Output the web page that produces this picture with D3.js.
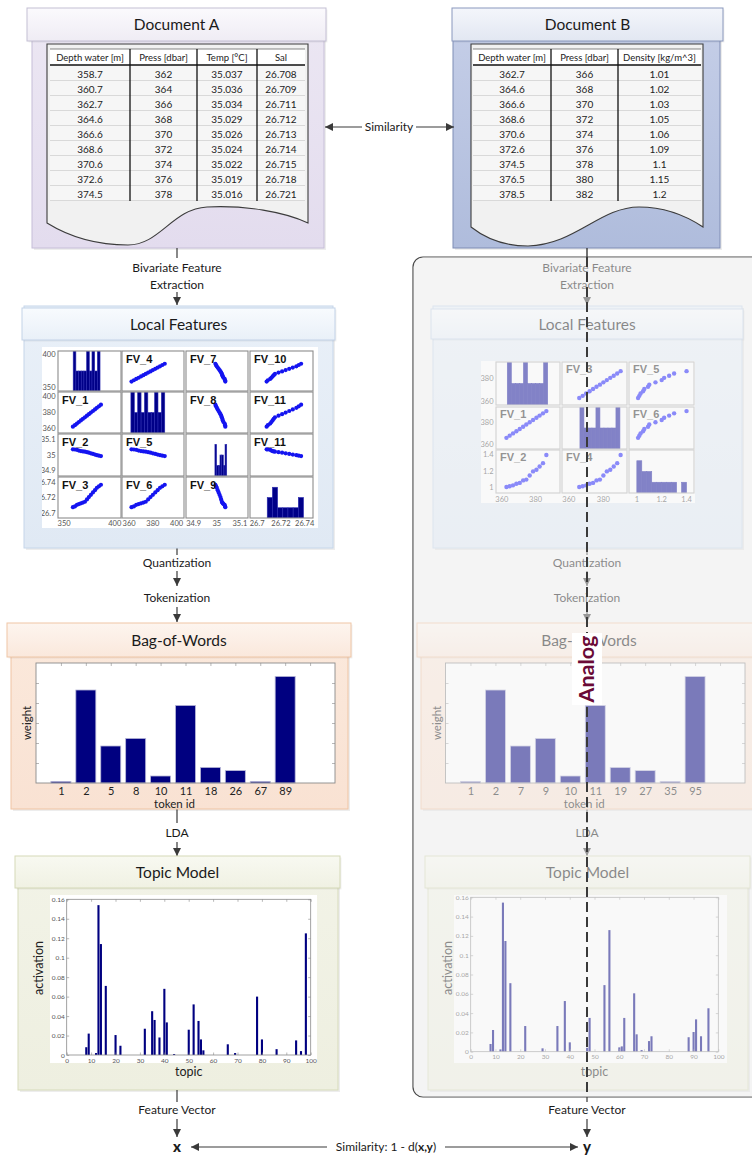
<!DOCTYPE html>
<html><head><meta charset="utf-8">
<script src="https://d3js.org/d3.v7.min.js"></script>
<style>
html,body{margin:0;padding:0;background:#fff;}
svg{display:block;}
</style></head>
<body>
<svg id="chart" width="752" height="1158"></svg>
<script>
// ===================== DATA =====================
const docAHeaders = ["Depth water [m]", "Press [dbar]", "Temp [°C]", "Sal"];
const docBHeaders = ["Depth water [m]", "Press [dbar]", "Density [kg/m^3]"];
const tableRowCount = 9;

// Document A profile (first 9 rows in the table, remaining)
const depthA = [358.7, 360.7, 362.7, 364.6, 366.6, 368.6, 370.6, 372.6, 374.5, 376.5, 378.5, 380.5, 382.4, 384.4, 386.4];
const pressA = [362, 364, 366, 368, 370, 372, 374, 376, 378, 380, 382, 384, 386, 388, 390];
const tempA  = [35.037, 35.036, 35.034, 35.029, 35.026, 35.024, 35.022, 35.019, 35.016, 35.012, 35.008, 35.004, 35.000, 34.997, 34.994];
const salA   = [26.708, 26.709, 26.711, 26.712, 26.713, 26.714, 26.715, 26.718, 26.721, 26.724, 26.727, 26.730, 26.733, 26.735, 26.737];

// Document B profile
const depthB = [362.7, 364.6, 366.6, 368.6, 370.6, 372.6, 374.5, 376.5, 378.5, 380.5, 382.4, 384.4, 386.4];
const pressB = [366, 368, 370, 372, 374, 376, 378, 380, 382, 384, 386, 388, 390];
const densB  = [1.01, 1.02, 1.03, 1.05, 1.06, 1.09, 1.1, 1.15, 1.2, 1.22, 1.26, 1.3, 1.4];

// Scatter-matrix histograms (bin counts)
const histDepthA = [2, 1, 1, 1, 1, 2, 1, 2, 1, 2];
const histPressA = [2, 1, 2, 1, 2, 1, 1, 2, 1, 2];
const histTempA  = [3, 1, 1, 2, 2, 1, 3];
const histSalA   = [2, 3, 1, 1, 1, 1, 2];
const histRangesA = [[359, 385.5], [361.5, 390], [34.992, 35.043], [26.7085, 26.739]];
const histMaxA = [2, 2, 4, 4];
const histDepthB = [2, 1, 1, 1, 2, 1, 1, 1, 1, 2];
const histPressB = [2, 1, 1, 1, 2, 1, 1, 1, 1, 2];
const histDensB  = [3, 2, 2, 1, 1, 1, 1, 1, 0, 1];
const histRangesB = [[363.2, 387.2], [366.4, 389.6], [1, 1.4]];
const histMaxB = [2, 2, 4];

const varDomainsA = [[344, 406.2], [354, 406.2], [34.867, 35.135], [26.694, 26.747]];
const varTicksA = [[350, 400], [360, 380, 400], [34.9, 35, 35.1], [26.7, 26.72, 26.74]];
const varDomainsB = [[356.5, 394.5], [356, 393.7], [0.937, 1.46]];
const varTicksB = [[360, 380], [360, 380], [1, 1.2, 1.4]];
const fvLabelsA = [["", "FV_4", "FV_7", "FV_10"], ["FV_1", "", "FV_8", "FV_11"], ["FV_2", "FV_5", "", "FV_11"], ["FV_3", "FV_6", "FV_9", ""]];
const fvLabelsB = [["", "FV_3", "FV_5"], ["FV_1", "", "FV_6"], ["FV_2", "FV_4", ""]];

// Bag-of-Words
const bowTokensA = ["1", "2", "5", "8", "10", "11", "18", "26", "67", "89"];
const bowWeightsA = [0.08, 4.65, 1.85, 2.23, 0.35, 3.88, 0.78, 0.62, 0.08, 5.33];
const bowTokensB = ["1", "2", "7", "9", "10", "11", "19", "27", "35", "95"];
const bowWeightsB = [0.08, 4.65, 1.85, 2.23, 0.35, 3.88, 0.78, 0.62, 0.08, 5.33];
const bowGridTicks = [1, 2, 3, 4, 5];
const bowTopTicks = [1, 2, 3, 4, 5, 6, 7, 8, 9, 10, 11];

// Topic model activations
const topicIdsA  = [8, 9, 12, 13, 14, 16, 20, 22, 32, 35, 36, 38, 40, 41, 44, 50, 52, 54, 55, 56, 66, 69, 78, 80, 86, 94, 96, 98];
const topicActA  = [0.008, 0.022, 0.002, 0.154, 0.114, 0.071, 0.0205, 0.0095, 0.027, 0.045, 0.036, 0.018, 0.068, 0.0335, 0.001, 0.026, 0.052, 0.035, 0.016, 0.0048, 0.011, 0.002, 0.060, 0.016, 0.006, 0.015, 0.004, 0.125];
const topicIdsB  = [8, 9, 12, 13, 14, 16, 22, 29, 35, 38, 40, 47, 48, 54, 56, 60, 61, 62, 66, 67, 69, 72, 73, 88, 90, 91, 93, 96];
const topicActB  = [0.008, 0.0225, 0.0024, 0.1545, 0.1147, 0.071, 0.0266, 0.0035, 0.0266, 0.0525, 0.0097, 0.004, 0.035, 0.069, 0.126, 0.0045, 0.0055, 0.035, 0.0605, 0.018, 0.0017, 0.011, 0.016, 0.015, 0.0204, 0.0335, 0.016, 0.045];
const topicXTicks = [0, 10, 20, 30, 40, 50, 60, 70, 80, 90, 100];
const topicYTicks = [0, 0.02, 0.04, 0.06, 0.08, 0.1, 0.12, 0.14, 0.16];

// ===================== DRAWING =====================
const FONT = "Lato, 'Open Sans', 'DejaVu Sans', sans-serif";
const svg = d3.select("#chart").style("font-family", FONT);
const defs = svg.append("defs");

function marker(id, color) {
  defs.append("marker").attr("id", id).attr("viewBox", "0 0 10 10")
    .attr("refX", 10).attr("refY", 5).attr("markerWidth", 8).attr("markerHeight", 8)
    .attr("markerUnits", "userSpaceOnUse").attr("orient", "auto")
    .append("path").attr("d", "M0,0L10,5L0,10z").attr("fill", color);
}
marker("arr", "#3a3a3a");

function grad(id, c0, c1) {
  const lg = defs.append("linearGradient").attr("id", id).attr("x1", 0).attr("y1", 0).attr("x2", 0).attr("y2", 1);
  lg.append("stop").attr("offset", "0%").attr("stop-color", c0);
  lg.append("stop").attr("offset", "100%").attr("stop-color", c1);
  return `url(#${id})`;
}

function rect(g, x, y, w, h) {
  return g.append("rect").attr("x", x).attr("y", y).attr("width", w).attr("height", h);
}
function text(g, x, y, s, size, opts = {}) {
  const t = g.append("text").attr("x", x).attr("y", y).text(s).attr("font-size", size)
    .attr("text-anchor", opts.anchor || "middle").attr("fill", opts.fill || "#1a1a1a");
  if (opts.weight) t.attr("font-weight", opts.weight);
  if (opts.family) t.attr("font-family", opts.family);
  return t;
}
function line(g, x1, y1, x2, y2, color, arrow, w) {
  const l = g.append("line").attr("x1", x1).attr("y1", y1).attr("x2", x2).attr("y2", y2)
    .attr("stroke", color || "#3a3a3a").attr("stroke-width", w || 1.2);
  if (arrow) l.attr("marker-end", "url(#arr)");
  return l;
}

function panel(g, body, head, title, col, gid) {
  rect(g, body[0] + 2, body[1] + 2, body[2], body[3]).attr("fill", "#000").attr("opacity", 0.07);
  rect(g, body[0], body[1], body[2], body[3]).attr("fill", grad(gid + "b", col.b0, col.b1)).attr("stroke", col.bs).attr("stroke-width", 1);
  rect(g, head[0] + 1.5, head[1] + 1.5, head[2], head[3]).attr("fill", "#000").attr("opacity", 0.06);
  rect(g, head[0], head[1], head[2], head[3]).attr("fill", grad(gid + "h", col.h0, col.h1)).attr("stroke", col.hs).attr("stroke-width", 1);
  text(g, head[0] + head[2] / 2, head[1] + head[3] / 2 + 5.5, title, 15.5, { fill: "#1a1a1a" });
}

const colDoc = { b0: "#ece7f3", b1: "#e3dcee", bs: "#c6bed8", h0: "#fbfafd", h1: "#efecf4", hs: "#c4bfd4" };
const colDocB = { b0: "#c6cfe8", b1: "#afbcdc", bs: "#7f8db5", h0: "#f4f6fb", h1: "#e2e7f2", hs: "#8a98bd" };
const colLF = { b0: "#e9f0f8", b1: "#e0e9f4", bs: "#c6d6ea", h0: "#f8fbfe", h1: "#e9f0f8", hs: "#c3d3e8" };
const colBoW = { b0: "#fbe9dc", b1: "#f9e2d3", bs: "#efc4a3", h0: "#fdf5ef", h1: "#fae8dc", hs: "#efc6a6" };
const colTM = { b0: "#f2f3e7", b1: "#eeefe0", bs: "#d7dbbb", h0: "#f8f9f1", h1: "#f0f1e3", hs: "#d5d9b7" };

// ---------- documents ----------
function docTable(g, paperPath, edges, headers, columns) {
  g.append("path").attr("d", paperPath).attr("fill", "#f1f1f1").attr("stroke", "#3c3c3c").attr("stroke-width", 1.1);
  const x0 = edges[0], x1 = edges[edges.length - 1];
  rect(g, x0, 49, x1 - x0, 16).attr("fill", "#fff");
  rect(g, x0, 65, x1 - x0, 15 * tableRowCount + 1).attr("fill", "#f6f6f6");
  for (let k = 1; k <= tableRowCount; k++) line(g, x0, 65 + 15 * k + 0.5, x1, 65 + 15 * k + 0.5, "#d2d2d2", false, 0.8);
  line(g, x0, 49, x1, 49, "#555", false, 0.7);
  line(g, x0, 65, x1, 65, "#111", false, 1.4);
  for (let c = 1; c < edges.length - 1; c++) line(g, edges[c], 49, edges[c], 201, "#111", false, 1.3);
  headers.forEach((h, c) => text(g, (edges[c] + edges[c + 1]) / 2, 61, h, 9.5, { fill: "#222" }));
  columns.forEach((arr, c) => {
    arr.slice(0, tableRowCount).forEach((v, r) => text(g, (edges[c] + edges[c + 1]) / 2, 77.5 + 15 * r, String(v), 10, { fill: "#222" }));
  });
}

const gDocs = svg.append("g");
panel(gDocs, [32, 12, 292, 236], [27, 8, 299, 33], "Document A", colDoc, "docA");
docTable(gDocs, "M47,44 L308,44 L308,223 C285,212 245,205 207,207 C172,209 160,245 128,245 C95,245 68,236 47,223 Z",
  [50, 130, 197, 257, 305], docAHeaders, [depthA, pressA, tempA, salA]);
panel(gDocs, [453, 12, 267, 236], [452, 8, 271, 33], "Document B", colDocB, "docB");
docTable(gDocs, "M471,44 L703,44 L703,227 C685,215 665,207 639,207 C600,207 575,245 528,246 C505,246 485,238 471,227 Z",
  [473, 551, 618, 701], docBHeaders, [depthB, pressB, densB]);

// Similarity arrows (top)
text(gDocs, 389, 131, "Similarity", 12, { fill: "#1a1a1a" });
line(gDocs, 362, 127, 325, 127, "#3a3a3a", true, 1.1);
line(gDocs, 416, 127, 454, 127, "#3a3a3a", true, 1.1);

// ---------- gray analog box ----------
const gGray = svg.append("g");
gGray.append("rect").attr("x", 413).attr("y", 257).attr("width", 360).attr("height", 840).attr("rx", 10)
  .attr("fill", "#f4f4f4").attr("stroke", "#4a4a4a").attr("stroke-width", 1.2);

// ---------- scatter matrix ----------
function scatterMatrix(g, cfg) {
  const n = cfg.vars.length;
  const imgClip = cfg.id + "img";
  defs.append("clipPath").attr("id", imgClip).append("rect")
    .attr("x", cfg.img[0]).attr("y", cfg.img[1]).attr("width", cfg.img[2]).attr("height", cfg.img[3]);
  rect(g, cfg.img[0], cfg.img[1], cfg.img[2], cfg.img[3]).attr("fill", "#fff");
  const gg = g.append("g").attr("clip-path", `url(#${imgClip})`);
  const xs = cfg.cols.map((c, j) => d3.scaleLinear().domain(cfg.domains[j]).range(c));
  const ys = cfg.rows.map((r, i) => d3.scaleLinear().domain(cfg.domains[i]).range([r[1], r[0]]));
  for (let i = 0; i < n; i++) for (let j = 0; j < n; j++) {
    const [cx0, cx1] = cfg.cols[j], [cy0, cy1] = cfg.rows[i];
    const cid = `${cfg.id}c${i}${j}`;
    defs.append("clipPath").attr("id", cid).append("rect").attr("x", cx0).attr("y", cy0).attr("width", cx1 - cx0).attr("height", cy1 - cy0);
    const cell = gg.append("g");
    rect(cell, cx0, cy0, cx1 - cx0, cy1 - cy0).attr("fill", cfg.cellFill);
    const inner = cell.append("g").attr("clip-path", `url(#${cid})`);
    if (i === j) {
      const counts = cfg.hists[i], rng = cfg.histRanges[i];
      const hx = d3.scaleLinear().domain([0, counts.length]).range([xs[j](rng[0]), xs[j](rng[1])]);
      const hy = d3.scaleLinear().domain([0, cfg.histMax[i]]).range([cy1, cy0]);
      inner.selectAll("rect.h").data(counts).join("rect").attr("class", "h")
        .attr("x", (d, k) => hx(k)).attr("width", (d, k) => hx(k + 1) - hx(k))
        .attr("y", d => hy(d)).attr("height", d => cy1 - hy(d))
        .attr("fill", cfg.histColor).attr("stroke", cfg.histStroke).attr("stroke-width", 0.6);
    } else {
      inner.selectAll("circle").data(d3.range(cfg.vars[0].length)).join("circle")
        .attr("cx", k => xs[j](cfg.vars[j][k])).attr("cy", k => ys[i](cfg.vars[i][k]))
        .attr("r", cfg.r).attr("fill", cfg.pointColor);
      if (cfg.labels[i][j]) text(cell, cx0 + 4, cy0 + cfg.labelDy, cfg.labels[i][j], cfg.labelSize,
        { anchor: "start", weight: "bold", fill: cfg.labelColor, family: "'Liberation Sans', Arial, sans-serif" });
    }
    rect(cell, cx0, cy0, cx1 - cx0, cy1 - cy0).attr("fill", "none").attr("stroke", cfg.cellStroke).attr("stroke-width", 1.1);
  }
  for (let i = 0; i < n; i++) cfg.ticks[i].forEach(t =>
    text(gg, cfg.leftX, ys[i](t) + 2.5, String(t), cfg.tickSize, { anchor: "end", fill: cfg.tickColor }));
  for (let j = 0; j < n; j++) cfg.ticks[j].forEach(t =>
    text(gg, xs[j](t), cfg.bottomY, String(t), cfg.tickSize, { fill: cfg.tickColor }));
}

// ---------- bag of words ----------
function bowChart(g, c) {
  const x = d3.scaleLinear().domain([0, 12]).range([c.x0, c.x1]);
  const y = d3.scaleLinear().domain([0, 6]).range([c.y1, c.y0]);
  rect(g, c.x0, c.y0, c.x1 - c.x0, c.y1 - c.y0).attr("fill", "#fff");
  g.selectAll(null).data(c.weights).join("rect")
    .attr("x", (d, i) => x(i + 1) - 10).attr("width", 20)
    .attr("y", d => y(d)).attr("height", d => c.y1 - y(d))
    .attr("fill", "#000080").attr("stroke", "#b8b8d8").attr("stroke-width", 0.8);
  const style = a => { a.select(".domain").remove(); a.selectAll("line").attr("stroke", "#999").attr("stroke-width", 0.7); return a; };
  style(g.append("g").attr("transform", `translate(0,${c.y0})`).call(d3.axisTop(x).tickValues(bowTopTicks).tickSize(-3).tickFormat("")));
  style(g.append("g").attr("transform", `translate(${c.x0},0)`).call(d3.axisLeft(y).tickValues(bowGridTicks).tickSize(-3).tickFormat("")));
  style(g.append("g").attr("transform", `translate(${c.x1},0)`).call(d3.axisRight(y).tickValues(bowGridTicks).tickSize(-3).tickFormat("")));
  const b = style(g.append("g").attr("transform", `translate(0,${c.y1})`)
    .call(d3.axisBottom(x).tickValues(c.tokens.map((t, i) => i + 1)).tickSize(0).tickPadding(4).tickFormat(i => c.tokens[i - 1])));
  b.selectAll("text").attr("font-size", 11).attr("font-family", FONT).attr("fill", "#222");
  rect(g, c.x0, c.y0, c.x1 - c.x0, c.y1 - c.y0).attr("fill", "none").attr("stroke", "#8a8a8a").attr("stroke-width", 0.9);
  text(g, 0, 0, "weight", 11.5, { fill: "#222" }).attr("transform", `translate(${c.x0 - 5},${(c.y0 + c.y1) / 2}) rotate(-90)`);
  text(g, (c.x0 + c.x1) / 2 - 11, 808, "token id", 11.5, { fill: "#222" });
}

// ---------- topic chart ----------
function topicChart(g, c) {
  rect(g, c.img[0], c.img[1], c.img[2], c.img[3]).attr("fill", "#fff");
  const x = d3.scaleLinear().domain([0, 100]).range([c.x0, c.x1]);
  const y = d3.scaleLinear().domain([0, 0.16]).range([c.y1, c.y0]);
  g.selectAll(null).data(c.ids).join("rect")
    .attr("x", d => x(d) - 1).attr("width", 2.1)
    .attr("y", (d, i) => y(c.acts[i])).attr("height", (d, i) => c.y1 - y(c.acts[i]))
    .attr("fill", "#000080");
  const fmt = d => String(+d.toFixed(2));
  const ax = (gen, tr) => {
    const a = g.append("g").attr("transform", tr).call(gen);
    a.select(".domain").remove();
    a.selectAll("line").attr("stroke", "#888").attr("stroke-width", 0.6);
    a.selectAll("text").attr("font-size", 6.5).attr("fill", "#555").attr("font-family", FONT);
    return a;
  };
  ax(d3.axisBottom(x).tickValues(topicXTicks).tickSize(-2.5).tickPadding(3).tickFormat(fmt), `translate(0,${c.y1})`);
  ax(d3.axisTop(x).tickValues(topicXTicks).tickSize(-2.5).tickFormat(""), `translate(0,${c.y0})`);
  ax(d3.axisLeft(y).tickValues(topicYTicks).tickSize(-2.5).tickPadding(2).tickFormat(fmt), `translate(${c.x0},0)`);
  ax(d3.axisRight(y).tickValues(topicYTicks).tickSize(-2.5).tickFormat(""), `translate(${c.x1},0)`);
  rect(g, c.x0, c.y0, c.x1 - c.x0, c.y1 - c.y0).attr("fill", "none").attr("stroke", "#8a8a8a").attr("stroke-width", 0.8);
  text(g, 0, 0, "activation", 12.5, { fill: "#222" }).attr("transform", `translate(${c.labX},${c.labY}) rotate(-90)`);
  text(g, (c.x0 + c.x1) / 2, 1076, "topic", 12.5, { fill: "#222" });
}

// ---------- flow text and arrows ----------
function flow(g, x, color) {
  text(g, x, 272, "Bivariate Feature", 12, { fill: color });
  text(g, x, 289, "Extraction", 12, { fill: color });
  line(g, x, 292, x, 305, "#3a3a3a", true, 1.2);
  line(g, x, 548, x, 555, "#3a3a3a", false, 1.2);
  text(g, x, 567, "Quantization", 12, { fill: color });
  line(g, x, 571, x, 586, "#3a3a3a", true, 1.2);
  text(g, x, 602, "Tokenization", 12, { fill: color });
  line(g, x, 607, x, 622, "#3a3a3a", true, 1.2);
  line(g, x, 809, x, 823, "#3a3a3a", false, 1.2);
  text(g, x, 837, "LDA", 12, { fill: color });
  line(g, x, 842, x, 856, "#3a3a3a", true, 1.2);
}

// ===== Column A =====
const gA = svg.append("g");
line(gA, 177, 248, 177, 258, "#3a3a3a", false, 1.2);
flow(gA, 177, "#1a1a1a");
panel(gA, [24, 306, 309, 242], [22, 308, 313, 32], "Local Features", colLF, "lfA");
scatterMatrix(gA, {
  id: "smA", img: [42, 347, 276, 181],
  cols: [[58, 121], [122, 184], [186, 248], [250, 313]],
  rows: [[351, 391], [392, 433], [434, 476], [477, 518]],
  domains: varDomainsA, ticks: varTicksA, vars: [depthA, pressA, tempA, salA],
  hists: [histDepthA, histPressA, histTempA, histSalA], histRanges: histRangesA, histMax: histMaxA,
  labels: fvLabelsA, labelSize: 11, labelDy: 11.5, labelColor: "#111",
  r: 2.1, pointColor: "#1414f0", histColor: "#000088", histStroke: "#2a2ab0",
  cellFill: "#fff", cellStroke: "#8c8c8c", tickSize: 7.5, tickColor: "#555", leftX: 55.5, bottomY: 526
});
panel(gA, [11, 626, 337, 183], [7, 623, 344, 34], "Bag-of-Words", colBoW, "bowA");
bowChart(gA, { x0: 36, x1: 335, y0: 663, y1: 783, tokens: bowTokensA, weights: bowWeightsA });
panel(gA, [18, 859, 320, 231], [15, 856, 325, 32], "Topic Model", colTM, "tmA");
topicChart(gA, { img: [50, 895, 267, 168], x0: 66.7, x1: 310.7, y0: 899.3, y1: 1055, ids: topicIdsA, acts: topicActA, labX: 43, labY: 968 });

// ===== Column B (faded) =====
const gB = svg.append("g");
flow(gB, 587, "#1a1a1a");
panel(gB, [433, 306, 309, 242], [431, 309, 312, 30], "Local Features", colLF, "lfB");
scatterMatrix(gB, {
  id: "smB", img: [481, 361, 214, 142],
  cols: [[496, 560], [562, 627], [629, 694]],
  rows: [[362, 405], [407, 449], [450, 493]],
  domains: varDomainsB, ticks: varTicksB, vars: [depthB, pressB, densB],
  hists: [histDepthB, histPressB, histDensB], histRanges: histRangesB, histMax: histMaxB,
  labels: fvLabelsB, labelSize: 11, labelDy: 11, labelColor: "#333",
  r: 2.2, pointColor: "#2020ff", histColor: "#10109a", histStroke: "#10109a",
  cellFill: "#fff", cellStroke: "#b0b0b0", tickSize: 7.5, tickColor: "#555", leftX: 493.5, bottomY: 502
});
panel(gB, [421, 626, 337, 183], [417, 623, 344, 34], "Bag-of-Words", colBoW, "bowB");
bowChart(gB, { x0: 445.5, x1: 745, y0: 663, y1: 783, tokens: bowTokensB, weights: bowWeightsB });
panel(gB, [428, 859, 320, 231], [425, 856, 325, 32], "Topic Model", colTM, "tmB");
topicChart(gB, { img: [454, 895, 273, 168], x0: 470.7, x1: 718.3, y0: 897.3, y1: 1051.7, ids: topicIdsB, acts: topicActB, labX: 452, labY: 968 });

// fade overlay
defs.append("clipPath").attr("id", "grayClip").append("rect").attr("x", 413.6).attr("y", 257.6).attr("width", 360).attr("height", 838.8).attr("rx", 10);
svg.append("rect").attr("x", 413).attr("y", 257).attr("width", 360).attr("height", 840)
  .attr("clip-path", "url(#grayClip)").attr("fill", "#f4f4f4").attr("opacity", 0.5);

// dashed analog line + label
const gTop = svg.append("g");
line(gTop, 587, 248, 587, 257, "#3a3a3a", false, 1.4);
line(gTop, 587, 257, 587, 1097, "#3a3a3a", false, 2).attr("stroke-dasharray", "10,5");
rect(gTop, 572, 633, 30, 72).attr("fill", "#fff");
text(gTop, 0, 0, "Analog", 21.5, { weight: "bold", fill: "#6a0a36" }).attr("transform", "translate(594,669) rotate(-90)");

// ===== bottom =====
const gBot = svg.append("g");
line(gBot, 177, 1090, 177, 1102, "#3a3a3a", false, 1.2);
line(gBot, 587, 1097, 587, 1102, "#3a3a3a", false, 1.2);
text(gBot, 177, 1114, "Feature Vector", 12);
text(gBot, 587, 1114, "Feature Vector", 12);
line(gBot, 177, 1119, 177, 1137, "#3a3a3a", true, 1.2);
line(gBot, 587, 1119, 587, 1137, "#3a3a3a", true, 1.2);
text(gBot, 177, 1152, "x", 15, { weight: "900" });
text(gBot, 587, 1152, "y", 15, { weight: "900" });
const sim = gBot.append("text").attr("x", 386).attr("y", 1151).attr("text-anchor", "middle").attr("font-size", 12).attr("fill", "#1a1a1a");
sim.append("tspan").text("Similarity: 1 - d(");
sim.append("tspan").attr("font-weight", "bold").text("x,y");
sim.append("tspan").text(")");
line(gBot, 327, 1147, 191, 1147, "#3a3a3a", true, 1.1);
line(gBot, 445, 1147, 578, 1147, "#3a3a3a", true, 1.1);
</script>
</body></html>
